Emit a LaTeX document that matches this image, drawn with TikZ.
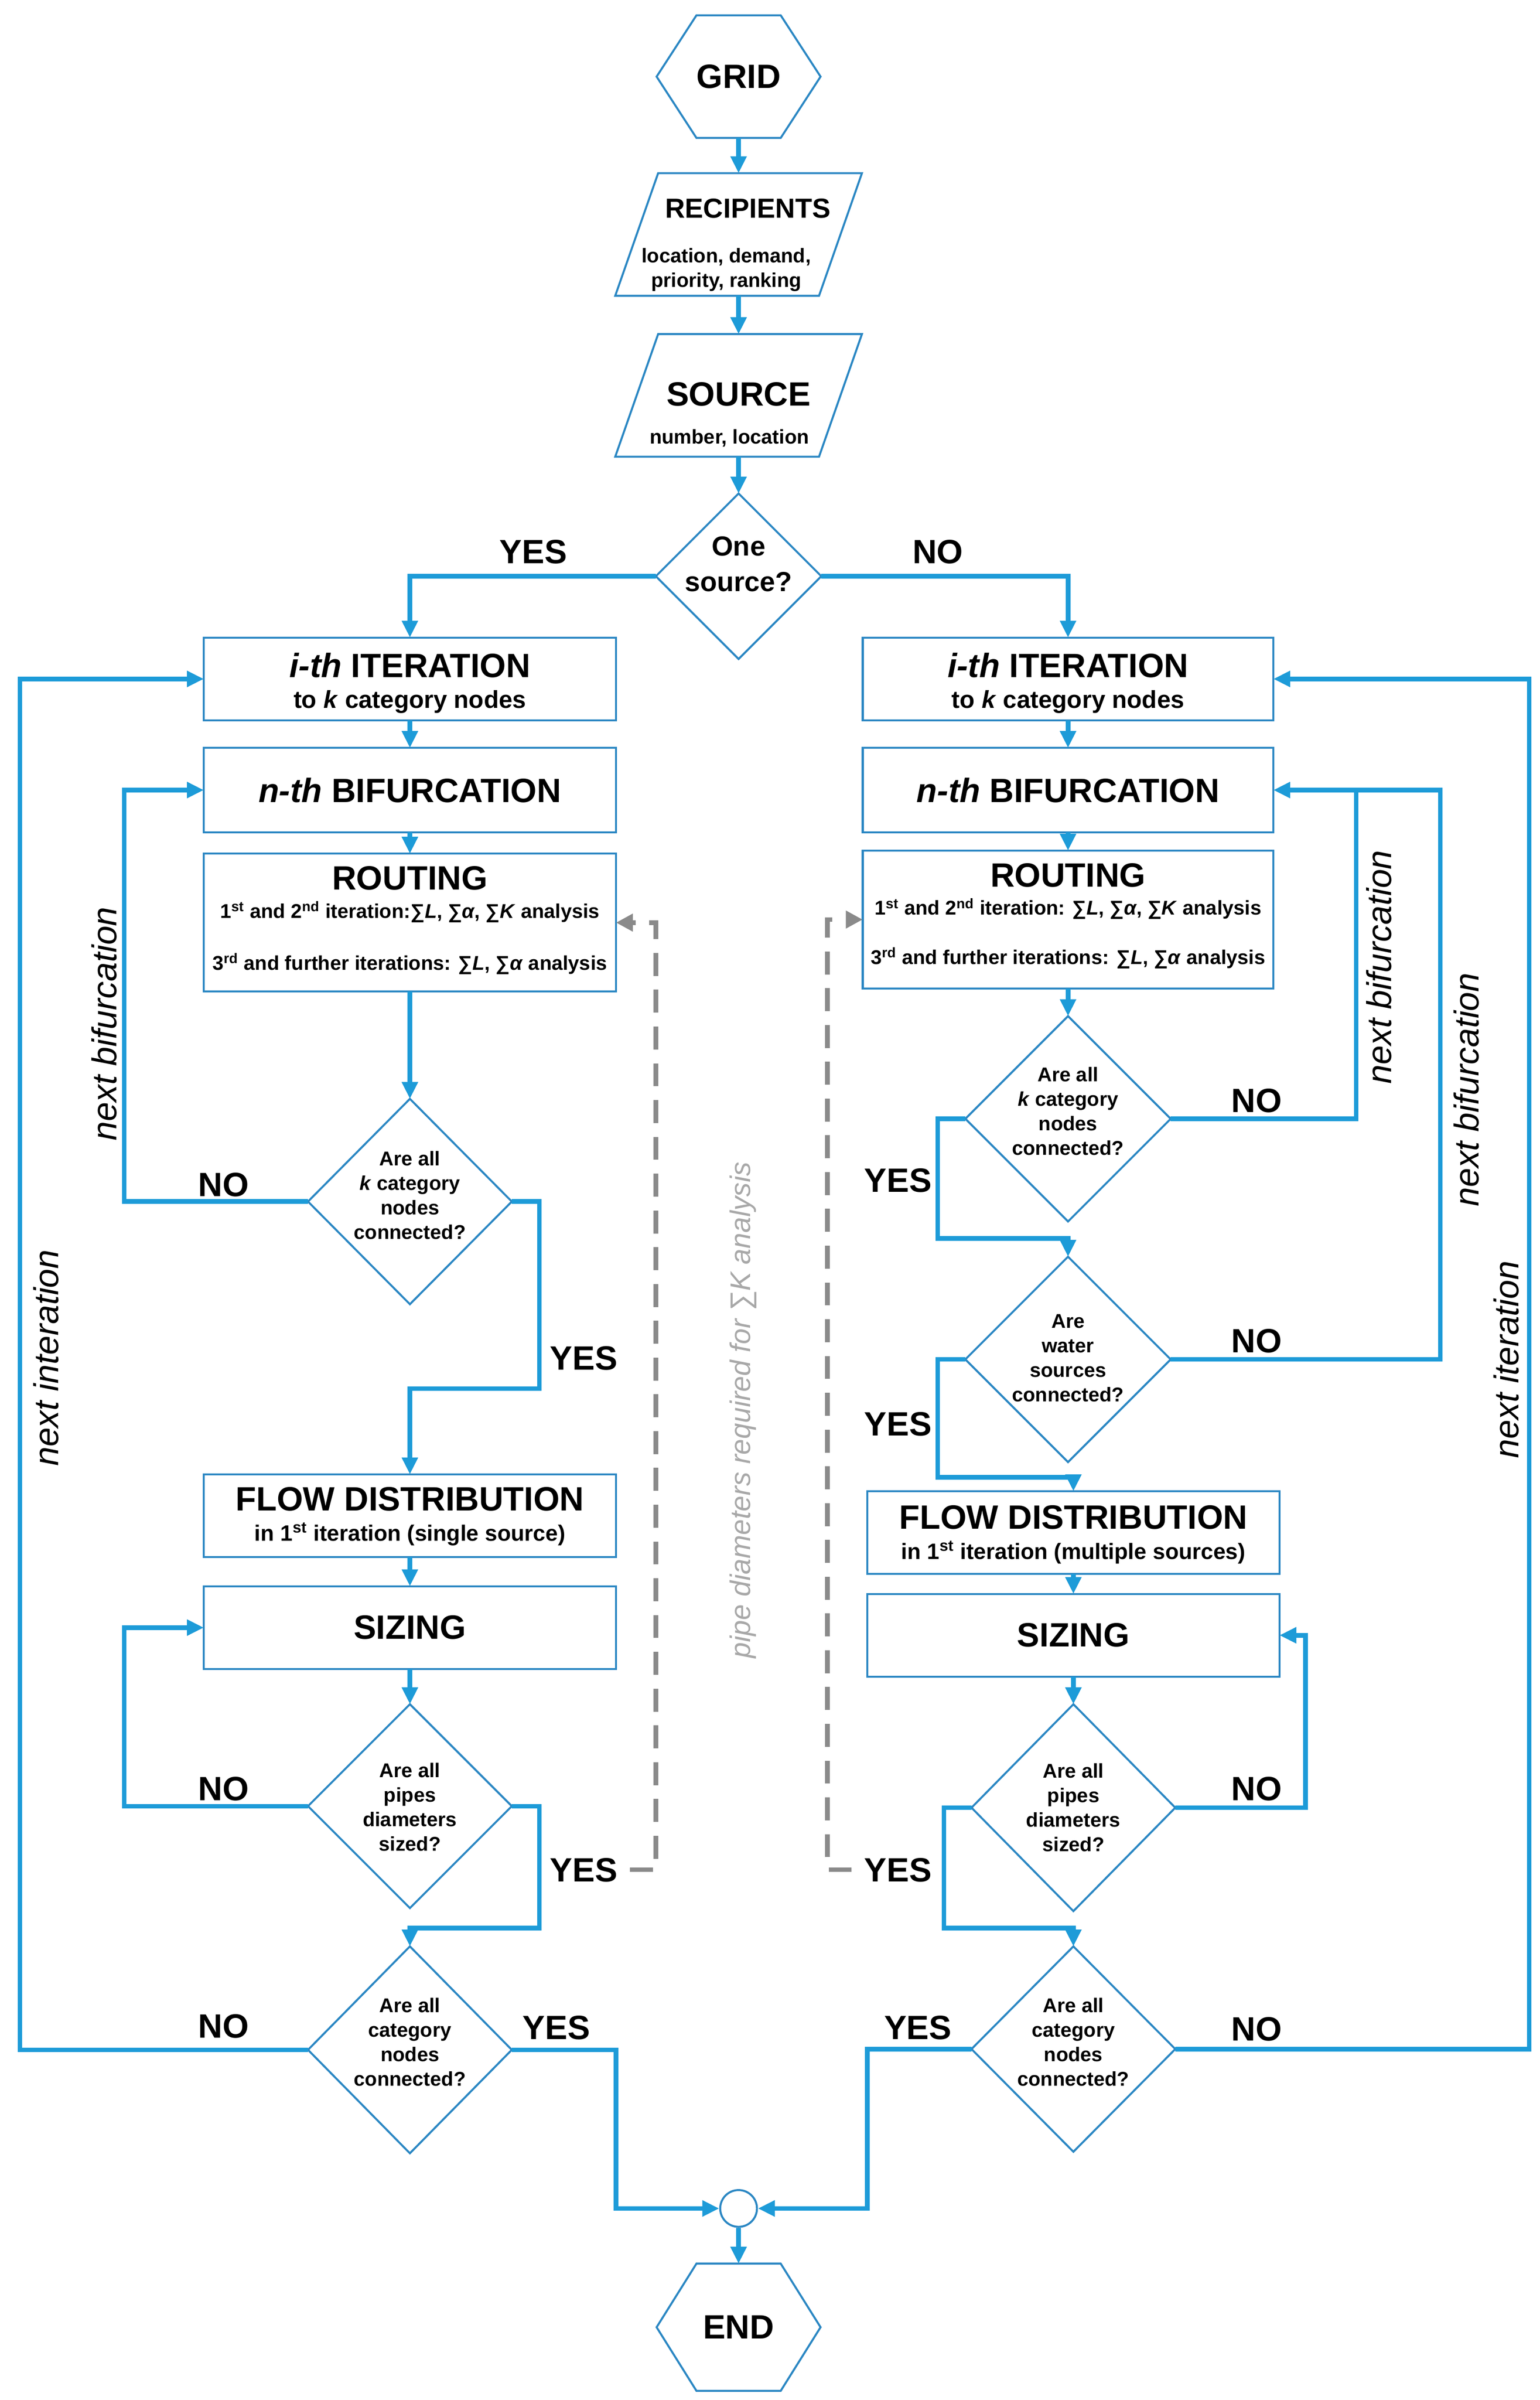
\documentclass[tikz,border=0pt]{standalone}
\usepackage{fontspec}
\setmainfont{Liberation Sans}
\usetikzlibrary{shapes.geometric,arrows.meta,calc}
\definecolor{cblue}{HTML}{1D9BD8}
\definecolor{oblue}{HTML}{2B87C3}
\definecolor{dgray}{HTML}{8A8A8A}
\definecolor{tgray}{HTML}{A8A8A8}
\begin{document}
\begin{tikzpicture}[x=1pt,y=-1pt,
 outl/.style={draw=oblue,line width=1.3pt},
 ghost/.style={inner sep=0pt,outer sep=0pt},
 boxn/.style={outl,rectangle,inner sep=0pt,outer sep=0pt,minimum width=269,minimum height=54},
 dia/.style={outl,diamond,inner sep=0pt,outer sep=0pt,minimum width=133,minimum height=134},
 conn/.style={draw=cblue,line width=3pt},
 arr/.style={conn,-{Triangle[length=11pt,width=10pt]}},
 garr/.style={draw=dgray,line width=3pt,dash pattern=on 15pt off 9pt,-{Triangle[length=11pt,width=11pt]}},
 ttl/.style={inner sep=0pt,font=\fontsize{22}{26}\selectfont\bfseries},
 sub/.style={inner sep=0pt,font=\fontsize{16}{19}\selectfont\bfseries},
 flw/.style={inner sep=0pt,font=\fontsize{14.5}{17}\selectfont\bfseries},
 sml/.style={inner sep=0pt,font=\fontsize{13}{16}\selectfont\bfseries},
 dtx/.style={inner sep=0pt,align=center,font=\fontsize{13}{16}\selectfont\bfseries},
 yn/.style={inner sep=0pt,text depth=0pt,font=\fontsize{22}{26}\selectfont\bfseries},
 rot/.style={inner sep=0pt,rotate=90,font=\fontsize{22.5}{26}\selectfont\itshape},
]
\useasboundingbox (0,0) rectangle (1005,1566);
\fill[white] (0,0) rectangle (1005,1566);

% ---------- top ----------
\node[ghost,minimum width=107,minimum height=80,font=\fontsize{22}{26}\selectfont\bfseries] (grid) at (482,50) {GRID};
\draw[outl] (grid.west) -- ([xshift=26pt]grid.north west) -- ([xshift=-26pt]grid.north east) -- (grid.east) -- ([xshift=-26pt]grid.south east) -- ([xshift=26pt]grid.south west) -- cycle;

\node[ghost,minimum width=161,minimum height=80] (rec) at (482,153) {};
\draw[outl] ([xshift=28pt]rec.north west) -- (rec.north east) -- ([xshift=-28pt]rec.south east) -- (rec.south west) -- cycle;
\node[inner sep=0pt,text depth=0pt,font=\fontsize{18}{22}\selectfont\bfseries] (recT) at (488,136) {RECIPIENTS};
\node[dtx] (recS) at (474,176) {location, demand,\\priority, ranking};

\node[ghost,minimum width=161,minimum height=80] (src) at (482,258) {};
\draw[outl] ([xshift=28pt]src.north west) -- (src.north east) -- ([xshift=-28pt]src.south east) -- (src.south west) -- cycle;
\node[ttl,text depth=0pt] (srcT) at (482,257) {SOURCE};
\node[sml] (srcS) at (476,286) {number, location};

\node[dia,minimum width=108,minimum height=108] (one) at (482,376) {};
\node[inner sep=0pt,align=center,font=\fontsize{18}{23}\selectfont\bfseries] (oneT) at (482,368) {One\\source?};

% ---------- left column ----------
\node[boxn] (itL) at (267.5,443) {};
\node[ttl] (itLT) at (267.5,434) {\textit{i-th} ITERATION};
\node[sub] (itLS) at (267.5,458) {to \textit{k} category nodes};
\node[boxn,minimum height=55,font=\fontsize{22}{26}\selectfont\bfseries] (bifL) at (267.5,515.5) {\textit{n-th} BIFURCATION};
\node[boxn,minimum height=90] (routL) at (267.5,602) {};
\node[ttl,text depth=0pt] (routLT) at (267.5,573) {ROUTING};
\node[sml] (routL1) at (267.5,595) {1\textsuperscript{st} and 2\textsuperscript{nd} iteration:∑\textit{L}, ∑\textit{α}, ∑\textit{K} analysis};
\node[sml] (routL2) at (267.5,629) {3\textsuperscript{rd} and further iterations: ∑\textit{L}, ∑\textit{α} analysis};

\node[dia] (dkL) at (267.5,784) {};
\node[dtx] (dkLT) at (267.5,780) {Are all\\\textit{k} category\\nodes\\connected?};

\node[boxn] (flowL) at (267.5,989) {};
\node[ttl] (flowLT) at (267.5,978) {FLOW DISTRIBUTION};
\node[flw] (flowLS) at (267.5,1001) {in 1\textsuperscript{st} iteration (single source)};
\node[boxn,font=\fontsize{22}{26}\selectfont\bfseries] (sizL) at (267.5,1062) {SIZING};

\node[dia,minimum height=133] (dpL) at (267.5,1178.5) {};
\node[dtx] (dpLT) at (267.5,1179) {Are all\\pipes\\diameters\\sized?};
\node[dia,minimum height=135] (dcL) at (267.5,1337.5) {};
\node[dtx] (dcLT) at (267.5,1332.5) {Are all\\category\\nodes\\connected?};

% ---------- right column ----------
\node[boxn,minimum width=268] (itR) at (697,443) {};
\node[ttl] (itRT) at (697,434) {\textit{i-th} ITERATION};
\node[sub] (itRS) at (697,458) {to \textit{k} category nodes};
\node[boxn,minimum width=268,minimum height=55,font=\fontsize{22}{26}\selectfont\bfseries] (bifR) at (697,515.5) {\textit{n-th} BIFURCATION};
\node[boxn,minimum width=268,minimum height=90] (routR) at (697,600) {};
\node[ttl,text depth=0pt] (routRT) at (697,571) {ROUTING};
\node[sml] (routR1) at (697,593) {1\textsuperscript{st} and 2\textsuperscript{nd} iteration: ∑\textit{L}, ∑\textit{α}, ∑\textit{K} analysis};
\node[sml] (routR2) at (697,625) {3\textsuperscript{rd} and further iterations: ∑\textit{L}, ∑\textit{α} analysis};

\node[dia,minimum width=134] (dkR) at (697,730) {};
\node[dtx] (dkRT) at (697,725) {Are all\\\textit{k} category\\nodes\\connected?};
\node[dia,minimum width=134] (dwR) at (697,887) {};
\node[dtx] (dwRT) at (697,886) {Are\\water\\sources\\connected?};

\node[boxn] (flowR) at (700.5,1000) {};
\node[ttl] (flowRT) at (700.5,990) {FLOW DISTRIBUTION};
\node[flw] (flowRS) at (700.5,1013) {in 1\textsuperscript{st} iteration (multiple sources)};
\node[boxn,font=\fontsize{22}{26}\selectfont\bfseries] (sizR) at (700.5,1067) {SIZING};

\node[dia,minimum height=135] (dpR) at (700.5,1179.5) {};
\node[dtx] (dpRT) at (700.5,1179.5) {Are all\\pipes\\diameters\\sized?};
\node[dia] (dcR) at (700.5,1337) {};
\node[dtx] (dcRT) at (700.5,1332.5) {Are all\\category\\nodes\\connected?};

% ---------- bottom ----------
\node[outl,circle,inner sep=0pt,minimum size=24] (circ) at (482,1441) {};
\node[ghost,minimum width=107,minimum height=83,font=\fontsize{22}{26}\selectfont\bfseries] (endh) at (482,1518.5) {END};
\draw[outl] (endh.west) -- ([xshift=26pt]endh.north west) -- ([xshift=-26pt]endh.north east) -- (endh.east) -- ([xshift=-26pt]endh.south east) -- ([xshift=26pt]endh.south west) -- cycle;

% ---------- YES / NO ----------
\node[yn] (yTop) at (348,360) {YES};
\node[yn] (nTop) at (612,360) {NO};
\node[yn] (nL1) at (146,773) {NO};
\node[yn] (yL1) at (381,886) {YES};
\node[yn] (nL2) at (146,1167) {NO};
\node[yn] (yL2) at (381,1220) {YES};
\node[yn] (nL3) at (146,1322) {NO};
\node[yn] (yL3) at (363,1323) {YES};
\node[yn] (nR1) at (820,718) {NO};
\node[yn] (yR1) at (586,770) {YES};
\node[yn] (nR2) at (820,875) {NO};
\node[yn] (yR2) at (586,929) {YES};
\node[yn] (nR3) at (820,1167) {NO};
\node[yn] (yR3) at (586,1220) {YES};
\node[yn] (yR4) at (599,1323) {YES};
\node[yn] (nR4) at (820,1324) {NO};

% ---------- rotated labels ----------
\node[rot] (lbNbL) at (68,668) {next bifurcation};
\node[rot] (lbNiL) at (30,886) {next interation};
\node[rot] (lbNbR1) at (900,631) {next bifurcation};
\node[rot] (lbNbR2) at (957,711) {next bifurcation};
\node[rot] (lbNiR) at (983,887) {next iteration};
\node[rot,text=tgray,font=\fontsize{18.5}{22}\selectfont\itshape] (lbPipe) at (485,920) {pipe diameters required for ∑K analysis};

% ---------- routing coordinates ----------
\coordinate (xL81) at (81,0);
\coordinate (xL13) at (13,0);
\coordinate (ykL1) at (352,906);
\coordinate (ykL2) at (352,1258);
\coordinate (ceL) at (402,1441);
\coordinate (xR885) at (885,0);
\coordinate (xR940) at (940,0);
\coordinate (xR852) at (852,0);
\coordinate (xR998) at (998,0);
\coordinate (ykR1) at (612,808);
\coordinate (ykR2) at (612,964);
\coordinate (ykR3) at (616,1258);
\coordinate (ceR) at (566,1441);
\coordinate (gdL) at (428,1220);
\coordinate (gdR) at (540,1220);

% ---------- connectors ----------
\draw[arr] (grid) -- (rec);
\draw[arr] (rec) -- (src);
\draw[arr] (src) -- (one);
\draw[arr] (one.west) -| (itL.north);
\draw[arr] (one.east) -| (itR.north);

\draw[arr] (itL) -- (bifL);
\draw[arr] (bifL) -- (routL);
\draw[arr] (routL) -- (dkL);
\draw[arr] (dkL.west) -- (dkL.west -| xL81) -- (bifL.west -| xL81) -- (bifL.west);
\draw[arr] (dkL.east) -| (ykL1) -- (ykL1 -| flowL) -- (flowL.north);
\draw[arr] (flowL) -- (sizL);
\draw[arr] (sizL) -- (dpL);
\draw[arr] (dpL.west) -- (dpL.west -| xL81) -- (sizL.west -| xL81) -- (sizL.west);
\draw[arr] (dpL.east) -| (ykL2) -- (ykL2 -| dcL) -- (dcL.north);
\draw[arr] (dcL.west) -- (dcL.west -| xL13) -- (itL.west -| xL13) -- (itL.west);
\draw[arr] (dcL.east) -| (ceL) -- (circ.west);

\draw[arr] (itR) -- (bifR);
\draw[arr] (bifR) -- (routR);
\draw[arr] (routR) -- (dkR);
\draw[conn] (dwR.east) -- (dwR.east -| xR940) -- (bifR.east -| xR940) -- (bifR.east -| xR885);
\draw[arr] (dkR.east) -- (dkR.east -| xR885) -- (bifR.east -| xR885) -- (bifR.east);
\draw[arr] (dkR.west) -| (ykR1) -- (ykR1 -| dwR) -- (dwR.north);
\draw[arr] (dwR.west) -| (ykR2) -- (ykR2 -| flowR) -- (flowR.north);
\draw[arr] (flowR) -- (sizR);
\draw[arr] (sizR) -- (dpR);
\draw[arr] (dpR.east) -- (dpR.east -| xR852) -- (sizR.east -| xR852) -- (sizR.east);
\draw[arr] (dpR.west) -| (ykR3) -- (ykR3 -| dcR) -- (dcR.north);
\draw[arr] (dcR.east) -- (dcR.east -| xR998) -- (itR.east -| xR998) -- (itR.east);
\draw[arr] (dcR.west) -| (ceR) -- (circ.east);

\draw[arr] (circ) -- (endh);

\draw[garr] ([xshift=8pt]yL2.east) -- (gdL) |- (routL.east);
\draw[garr] ([xshift=-8pt]yR3.west) -- (gdR) |- (routR.west);
\end{tikzpicture}
\end{document}
